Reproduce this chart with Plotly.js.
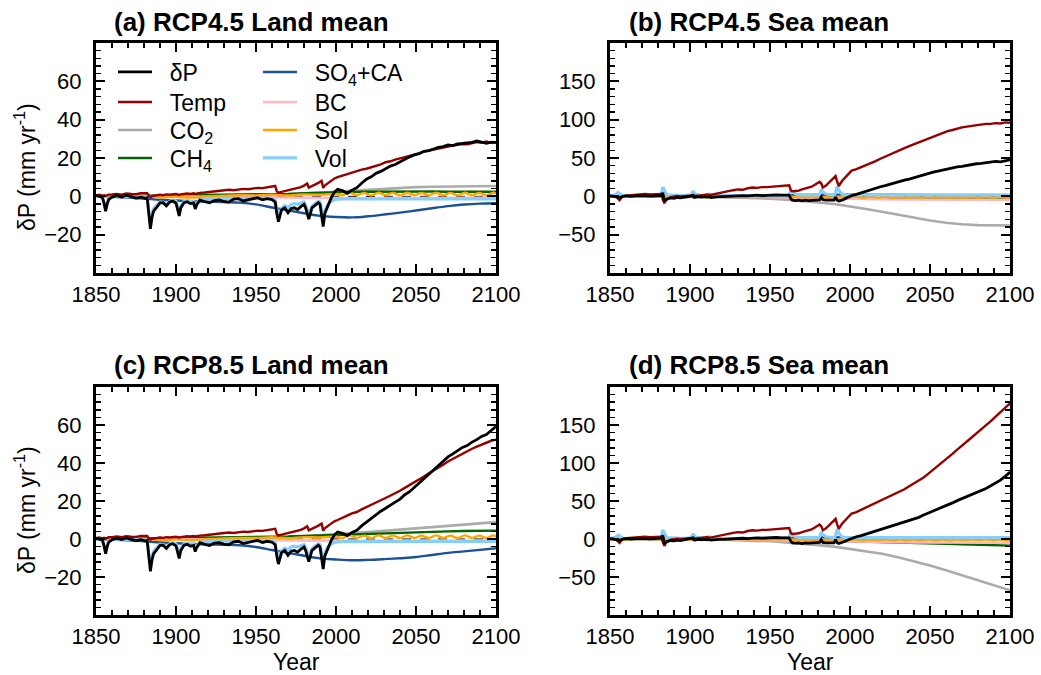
<!DOCTYPE html>
<html>
<head>
<meta charset="utf-8">
<script src="https://cdn.plot.ly/plotly-3.0.1.min.js"></script>
<style>
  html, body { margin: 0; padding: 0; background: #ffffff; }
  #chart { width: 1041px; height: 675px; }
</style>
</head>
<body>
<div id="chart"></div>
<script>
// ---------- time axes ----------
const histYears = [1850, 1852, 1854, 1855, 1856, 1857, 1858, 1860, 1863, 1866,
  1869, 1872, 1875, 1878, 1881, 1882, 1883, 1884, 1885, 1886,
  1888, 1890, 1892, 1894, 1896, 1898, 1900, 1901, 1902, 1903,
  1905, 1907, 1909, 1911, 1912, 1913, 1915, 1918, 1921, 1924,
  1927, 1930, 1933, 1936, 1939, 1942, 1945, 1948, 1951, 1954,
  1957, 1960, 1962, 1963, 1964, 1966, 1968, 1970, 1972, 1974,
  1976, 1978, 1980, 1981, 1982, 1983, 1985, 1987, 1989, 1990,
  1991, 1992, 1993, 1995, 1997, 1999, 2001];
const futureYears = [2004, 2007, 2010, 2013, 2016, 2019, 2022, 2025, 2028, 2031, 2034,
  2037, 2040, 2043, 2046, 2049, 2052, 2055, 2058, 2061, 2064, 2067, 2070, 2073, 2076,
  2079, 2082, 2085, 2088, 2091, 2094, 2097, 2100];
const decadeYears = [1850, 1860, 1870, 1880, 1890, 1900, 1910, 1920, 1930, 1940, 1950,
  1960, 1970, 1980, 1990, 2000, 2010, 2020, 2030, 2040, 2050, 2060, 2070, 2080, 2090, 2100];
const solarYears = [1850, 1860, 1870, 1880, 1890, 1900, 1910, 1920, 1930, 1940, 1950,
  1960, 1970, 1980, 1990, 2000, 2004, 2008.5, 2013, 2017.5, 2022, 2026.5, 2031, 2035.5,
  2040, 2044.5, 2049, 2053.5, 2058, 2062.5, 2067, 2071.5, 2076, 2080.5, 2085, 2089.5,
  2094, 2098.5, 2100];
const volTailYears = [2004, 2100];

// ---------- land mean (mm/yr) ----------
const landDPHist = [0.5, 0.0, -0.6, -3.5, -7.8, -4.0, -1.6, -0.4, 0.4, -0.3,
  0.6, -0.2, -0.9, -0.4, -1.1, -0.8, -10.0, -17.0, -11.0, -7.7,
  -5.6, -3.4, -3.3, -5.0, -3.0, -2.5, -3.6, -7.0, -10.2, -6.0,
  -3.3, -2.8, -3.8, -3.4, -6.6, -4.4, -1.9, -2.8, -3.4, -2.2,
  -1.9, -2.7, -3.0, -1.5, -1.2, -2.4, -1.9, -1.0, -0.7, -1.8,
  -1.2, -1.7, -3.0, -9.0, -13.2, -7.0, -6.0, -8.6, -6.4, -6.0,
  -6.9, -5.4, -4.2, -6.0, -9.2, -11.9, -6.0, -4.5, -3.3, -4.2,
  -9.5, -15.8, -9.0, -4.6, -0.8, 2.2, 3.7];
const landDP45 = [3.0, 1.6, 3.2, 4.5, 6.8, 8.9, 10.2, 12.0, 13.0, 14.6, 15.8,
  16.6, 18.0, 19.0, 20.6, 21.6, 22.3, 23.5, 23.9, 24.7, 25.6, 25.9, 26.8, 26.5, 27.4,
  27.6, 27.9, 28.2, 28.9, 28.4, 27.7, 28.3, 28.0];
const landDP85 = [3.0, 1.8, 3.4, 4.6, 6.9, 8.8, 10.6, 12.9, 14.6, 16.2, 18.0,
  19.4, 21.0, 23.3, 24.9, 27.2, 29.1, 31.6, 33.8, 36.0, 38.5, 40.9, 43.2, 44.8, 46.3,
  48.2, 49.2, 51.0, 52.3, 54.0, 55.0, 57.3, 59.2];
const landTempHist = [0.4, 0.8, 0.3, 0.6, 0.2, 0.5, 0.9, 1.0, 1.3, 0.9,
  1.5, 1.2, 1.1, 1.6, 1.8, 1.6, 0.4, -0.4, 0.1, 0.3,
  0.6, 0.8, 0.6, 1.0, 0.8, 1.1, 1.2, 1.0, 0.7, 1.0,
  1.2, 1.5, 1.3, 1.6, 1.3, 1.5, 1.8, 2.0, 2.3, 2.6,
  2.9, 3.1, 3.4, 3.2, 3.6, 3.9, 3.7, 4.2, 4.4, 4.3,
  4.8, 5.0, 5.4, 2.6, 1.9, 2.3, 2.7, 3.0, 3.3, 3.8,
  4.1, 4.8, 5.6, 6.3, 6.7, 4.6, 5.3, 6.2, 7.0, 7.6,
  8.1, 4.4, 5.6, 6.9, 8.1, 9.3, 10.0];
const landTemp45 = [10.8, 11.6, 12.6, 13.0, 13.9, 14.4, 15.1, 16.0, 16.7, 17.8, 18.3,
  19.2, 19.8, 20.6, 21.0, 21.9, 22.4, 23.3, 23.7, 24.4, 24.9, 25.6, 25.9, 26.5, 26.8,
  27.3, 27.2, 27.9, 28.3, 28.0, 28.6, 27.9, 28.4];
const landTemp85 = [11.0, 12.3, 13.5, 14.2, 15.6, 16.7, 18.0, 19.0, 20.4, 21.6, 22.8,
  24.1, 25.4, 26.9, 28.3, 29.9, 31.4, 32.9, 34.6, 36.0, 37.7, 39.1, 40.8, 42.2, 43.6,
  45.1, 46.1, 47.5, 48.6, 49.7, 50.6, 51.7, 52.3];
const landVolHist = [0.0, 0.0, -0.5, -3.0, -6.2, -3.2, -1.0, -0.3, 0.0, -0.2,
  0.0, -0.2, -0.3, -0.3, -0.5, -0.5, -8.0, -13.5, -9.0, -6.5,
  -4.6, -3.0, -3.0, -4.0, -2.6, -2.0, -2.6, -5.6, -8.2, -5.0,
  -2.6, -2.2, -2.6, -2.5, -5.2, -3.6, -1.6, -1.6, -1.6, -1.3,
  -1.1, -1.1, -1.1, -1.0, -1.0, -1.0, -1.0, -1.0, -1.0, -1.0,
  -1.0, -1.0, -2.0, -7.2, -10.8, -6.2, -4.8, -5.8, -4.2, -3.8,
  -4.2, -3.6, -3.0, -4.6, -7.2, -9.6, -5.2, -3.6, -2.6, -3.0,
  -7.2, -12.6, -7.6, -4.0, -2.6, -1.8, -1.5];
const landVolTail = [-1.4, -1.3];
const landCO2_45 = [0, 0, 0, 0.1, 0.1, 0.2, 0.2, 0.3, 0.3, 0.4, 0.5, 0.7, 1.0, 1.4, 1.9,
  2.4, 3.0, 3.6, 4.1, 4.5, 4.8, 5.0, 5.2, 5.3, 5.4, 5.4];
const landCO2_85 = [0, 0, 0, 0.1, 0.1, 0.2, 0.2, 0.3, 0.3, 0.4, 0.5, 0.7, 1.0, 1.4, 1.9,
  2.4, 3.0, 3.6, 4.3, 5.0, 5.7, 6.4, 7.1, 7.7, 8.3, 8.9];
const landCH4_45 = [0, 0.1, 0.1, 0.2, 0.3, 0.4, 0.5, 0.6, 0.7, 0.8, 0.9, 1.1, 1.3, 1.6, 1.9,
  2.1, 2.3, 2.4, 2.5, 2.5, 2.5, 2.5, 2.4, 2.4, 2.4, 2.4];
const landCH4_85 = [0, 0.1, 0.1, 0.2, 0.3, 0.4, 0.5, 0.6, 0.7, 0.8, 0.9, 1.1, 1.3, 1.6, 1.9,
  2.1, 2.5, 2.8, 3.1, 3.4, 3.6, 3.8, 4.0, 4.2, 4.3, 4.4];
const landSO4_45 = [0, -0.3, -0.7, -1.2, -1.8, -2.2, -2.6, -2.8, -3.0, -3.3, -4.2, -5.8, -7.3,
  -8.8, -10.2, -10.8, -11.0, -10.4, -9.5, -8.5, -7.4, -6.2, -5.1, -4.3, -3.8, -3.6];
const landSO4_85 = [0, -0.3, -0.7, -1.2, -1.8, -2.2, -2.6, -2.8, -3.0, -3.3, -4.2, -5.8, -7.3,
  -8.8, -10.2, -10.8, -11.2, -11.0, -10.6, -10.1, -9.5, -8.4, -7.3, -6.5, -5.7, -4.9];
const landBC_45 = [0, 0, 0, 0, -0.1, -0.2, -0.2, -0.3, -0.3, -0.4, -0.5, -0.6, -0.8, -0.9,
  -1.0, -1.1, -1.0, -1.0, -0.9, -0.9, -0.8, -0.8, -0.8, -0.8, -0.8, -0.8];
const landBC_85 = [0, 0, 0, 0, -0.1, -0.2, -0.2, -0.3, -0.3, -0.4, -0.5, -0.6, -0.8, -0.9,
  -1.0, -1.1, -1.1, -1.1, -1.0, -1.0, -1.0, -1.0, -1.0, -1.0, -1.0, -1.0];
const landSol = [0.3, 0.0, 0.5, 0.2, -0.6, -0.2, -0.7, 0.0, 0.3, 0.6, 0.5, 0.9, 0.4, 1.0, 0.8,
  1.2, 0.5, 1.9, 0.6, 1.8, 0.5, 1.9, 0.6, 1.8, 0.5, 1.9, 0.6, 1.8, 0.5, 1.9, 0.6, 1.8,
  0.5, 1.9, 0.6, 1.8, 0.5, 1.9, 1.2];

// ---------- sea mean (mm/yr) ----------
const seaDPHist = [0.5, 0.0, -0.5, -1.0, -2.0, -1.0, 0.0, 0.5, 0.0, 0.5,
  0.8, 0.5, 0.2, 0.8, 1.0, 1.0, 4.5, -6.0, -4.0, -3.0,
  -2.0, -2.5, -1.5, -2.0, -1.0, -0.5, 0.0, 0.5, 1.5, -1.5,
  -0.5, -1.0, -0.5, -1.0, -0.5, -1.5, -1.0, -0.5, -0.5, 0.0,
  0.5, 0.5, 1.0, 0.5, 1.0, 1.5, 1.0, 1.5, 1.5, 2.0,
  1.5, 2.0, 1.5, -3.0, -5.0, -5.5, -5.0, -6.0, -5.0, -5.5,
  -5.0, -4.5, -4.0, -4.5, -1.0, -4.5, -5.0, -5.0, -4.5, -5.0,
  -1.0, -5.0, -6.0, -5.0, -3.0, -1.0, 1.0];
const seaDP45 = [2.5, 4.5, 7.0, 9.0, 10.5, 12.5, 14.0, 16.0, 17.0, 19.5, 21.0,
  22.5, 24.5, 26.5, 28.0, 30.0, 31.5, 33.0, 34.5, 35.5, 37.0, 38.5, 39.0, 40.5, 41.0,
  42.5, 43.0, 44.0, 44.5, 45.5, 45.0, 46.5, 47.5];
const seaDP85 = [3.0, 4.5, 6.5, 8.5, 10.0, 12.0, 13.5, 15.5, 17.5, 19.5, 21.5,
  23.5, 26.0, 28.5, 31.5, 34.0, 37.0, 39.5, 42.0, 45.0, 47.5, 50.5, 53.0, 55.5, 58.0,
  61.0, 63.5, 66.5, 70.0, 73.5, 77.5, 82.5, 88.0];
const seaTempHist = [0.0, 0.5, -1.0, -3.0, -5.0, -2.0, 0.0, 1.0, 1.5, 2.0,
  2.5, 3.0, 2.5, 3.0, 3.5, 3.0, -4.0, -9.0, -5.0, -3.0,
  -1.0, 0.0, 0.5, 0.0, 0.5, 1.0, 1.5, 1.0, -1.0, 0.5,
  1.0, 1.5, 2.0, 2.5, 1.5, 2.0, 3.0, 4.0, 5.5, 7.0,
  8.0, 9.0, 8.5, 10.5, 11.5, 11.0, 12.0, 12.0, 12.5, 13.0,
  13.5, 14.0, 14.5, 8.0, 6.5, 7.0, 7.5, 9.0, 10.0, 11.0,
  12.5, 15.0, 17.5, 19.0, 17.0, 11.5, 14.0, 18.0, 22.0, 24.5,
  26.5, 19.0, 13.5, 20.0, 25.0, 30.0, 33.5];
const seaTemp45 = [35.5, 38.0, 40.0, 43.0, 46.0, 49.0, 52.0, 55.0, 57.5, 60.5, 63.0,
  65.5, 68.0, 70.5, 73.0, 76.0, 78.5, 80.5, 83.0, 85.0, 86.5, 88.5, 90.0, 91.0, 92.0,
  93.0, 94.0, 94.5, 94.5, 95.5, 95.0, 96.5, 96.0];
const seaTemp85 = [35.5, 38.5, 41.5, 44.5, 47.0, 50.0, 52.5, 55.5, 58.5, 62.0, 65.5,
  69.5, 73.0, 77.0, 81.0, 86.0, 91.0, 96.0, 101.0, 107.0, 112.0, 117.5, 122.5, 128.0, 133.5,
  139.0, 144.0, 149.5, 155.0, 161.0, 166.5, 172.5, 178.5];
const seaVolHist = [1.5, 1.0, 3.0, 5.0, 4.0, 2.0, 1.0, 0.5, 0.5, 0.5,
  0.5, 0.5, 0.5, 0.5, 0.5, 1.0, 12.0, 8.0, 3.5, 2.0,
  1.5, 1.0, 1.0, 1.0, 1.0, 1.0, 1.5, 3.0, 7.0, 3.0,
  1.5, 1.0, 1.0, 1.5, 3.0, 2.0, 1.0, 0.5, 0.5, 0.5,
  0.5, 0.5, 0.5, 0.5, 0.5, 0.5, 0.5, 0.5, 0.5, 0.5,
  0.5, 0.5, 1.0, 8.0, 6.0, 3.0, 2.0, 2.0, 1.5, 1.5,
  1.5, 1.5, 1.5, 2.0, 9.0, 6.0, 3.0, 2.0, 1.5, 1.5,
  5.0, 13.0, 8.0, 3.0, 2.0, 2.0, 2.0];
const seaVolTail = [2.0, 2.0];
const seaCO2_45 = [0, 0, 0, -0.2, -0.3, -0.5, -0.8, -1.0, -1.5, -2.0, -3.0, -4.5, -6.0, -8.0,
  -10.0, -13.0, -16.5, -20.0, -24.0, -28.0, -31.5, -34.5, -36.5, -37.5, -38.0, -38.0];
const seaCO2_85 = [0, 0, 0, -0.2, -0.3, -0.5, -0.8, -1.0, -1.5, -2.0, -3.0, -4.5, -6.0, -8.0,
  -10.0, -13.0, -16.5, -19.5, -24.0, -29.0, -35.0, -41.0, -47.5, -54.0, -60.5, -67.5];
const seaCH4_45 = [0, 0, 0, 0, 0, 0, -0.1, -0.2, -0.3, -0.4, -0.6, -0.9, -1.3, -1.8, -2.3,
  -2.6, -2.8, -2.9, -3.0, -3.0, -3.0, -3.0, -2.9, -2.9, -2.8, -2.8];
const seaCH4_85 = [0, 0, 0, 0, 0, 0, -0.1, -0.2, -0.3, -0.4, -0.6, -0.9, -1.3, -1.8, -2.3,
  -2.6, -3.0, -3.5, -4.2, -4.9, -5.6, -6.3, -7.0, -7.6, -8.2, -8.7];
const seaSO4_45 = [0, 0.1, 0.2, 0.3, 0.4, 0.5, 0.6, 0.7, 0.8, 0.9, 1.1, 1.4, 1.7, 2.0, 2.2,
  2.3, 2.3, 2.2, 2.0, 1.8, 1.6, 1.4, 1.2, 1.0, 0.9, 0.8];
const seaSO4_85 = [0, 0.1, 0.2, 0.3, 0.4, 0.5, 0.6, 0.7, 0.8, 0.9, 1.1, 1.4, 1.7, 2.0, 2.2,
  2.3, 2.4, 2.3, 2.2, 2.1, 2.0, 1.8, 1.6, 1.4, 1.2, 1.0];
const seaBC_45 = [0, 0, 0, 0, -0.1, -0.2, -0.4, -0.6, -0.8, -1.0, -1.4, -1.9, -2.5, -3.0, -3.4,
  -3.7, -3.9, -4.0, -4.1, -4.2, -4.2, -4.3, -4.3, -4.4, -4.4, -4.4];
const seaBC_85 = [0, 0, 0, 0, -0.1, -0.2, -0.4, -0.6, -0.8, -1.0, -1.4, -1.9, -2.5, -3.0, -3.4,
  -3.7, -3.9, -4.1, -4.3, -4.5, -4.6, -4.7, -4.8, -4.9, -4.9, -5.0];
const seaSol = [0.0, -0.3, 0.2, -0.2, -1.0, -0.5, -0.8, -0.3, -0.2, -0.4, -0.5, -0.3, -1.2, -1.0,
  -1.5, -1.0, -0.6, -1.8, -0.6, -1.7, -0.6, -1.8, -0.6, -1.7, -0.6, -1.8, -0.6, -1.7, -0.6,
  -1.8, -0.6, -1.7, -0.6, -1.8, -0.6, -1.7, -0.6, -1.8, -1.2];

// ---------- labels ----------
const panelTitles = ['(a) RCP4.5 Land mean', '(b) RCP4.5 Sea mean', '(c) RCP8.5 Land mean', '(d) RCP8.5 Sea mean'];
const seriesNames = {
  dp: 'δP', temp: 'Temp', co2: 'CO<sub>2</sub>', ch4: 'CH<sub>4</sub>',
  so4: 'SO<sub>4</sub>+CA', bc: 'BC', sol: 'Sol', vol: 'Vol'
};
const xTickVals = [1850, 1900, 1950, 2000, 2050, 2100];
const landTickVals = [-20, 0, 20, 40, 60];
const seaTickVals = [-50, 0, 50, 100, 150];
const yTitle = 'δP (mm yr<sup>-1</sup>)';
const xTitle = 'Year';

// ---------- styling ----------
const FONT = 'Liberation Sans, Arial, Helvetica, sans-serif';
const W = 1041, H = 675;
// each key entry sits in its own legend box: [left px, row-centre px]
const style = {
  co2:  { color: '#ababab', width: 2.6, legend: 'legend3', pos: [113, 130] },
  ch4:  { color: '#006400', width: 2.4, legend: 'legend4', pos: [113, 158] },
  so4:  { color: '#1e5096', width: 2.4, legend: 'legend5', pos: [258, 72] },
  bc:   { color: '#ffb6c1', width: 2.6, legend: 'legend6', pos: [258, 102] },
  sol:  { color: '#ffa500', width: 2.4, legend: 'legend7', pos: [258, 130] },
  vol:  { color: '#87cefa', width: 3.2, legend: 'legend8', pos: [258, 158] },
  temp: { color: '#960000', width: 2.4, legend: 'legend2', pos: [113, 102] },
  dp:   { color: '#000000', width: 2.8, legend: 'legend',  pos: [113, 72] }
};

const panels = [
  { xa: 'x',  ya: 'y',  showLegend: true,
    co2: landCO2_45, ch4: landCH4_45, so4: landSO4_45, bc: landBC_45, sol: landSol,
    volHist: landVolHist, volTail: landVolTail,
    tempHist: landTempHist, tempFut: landTemp45, dpHist: landDPHist, dpFut: landDP45 },
  { xa: 'x2', ya: 'y2', showLegend: false,
    co2: seaCO2_45, ch4: seaCH4_45, so4: seaSO4_45, bc: seaBC_45, sol: seaSol,
    volHist: seaVolHist, volTail: seaVolTail,
    tempHist: seaTempHist, tempFut: seaTemp45, dpHist: seaDPHist, dpFut: seaDP45 },
  { xa: 'x3', ya: 'y3', showLegend: false,
    co2: landCO2_85, ch4: landCH4_85, so4: landSO4_85, bc: landBC_85, sol: landSol,
    volHist: landVolHist, volTail: landVolTail,
    tempHist: landTempHist, tempFut: landTemp85, dpHist: landDPHist, dpFut: landDP85 },
  { xa: 'x4', ya: 'y4', showLegend: false,
    co2: seaCO2_85, ch4: seaCH4_85, so4: seaSO4_85, bc: seaBC_85, sol: seaSol,
    volHist: seaVolHist, volTail: seaVolTail,
    tempHist: seaTempHist, tempFut: seaTemp85, dpHist: seaDPHist, dpFut: seaDP85 }
];

// two non-breaking spaces widen the gap between key line and label
const PAD = '\u00a0\u00a0';

function line(key, p, x, y, shape) {
  const s = style[key];
  const ln = { color: s.color, width: s.width };
  if (shape) { ln.shape = 'spline'; ln.smoothing = 1; }
  return {
    type: 'scatter', mode: 'lines', x: x, y: y,
    xaxis: p.xa, yaxis: p.ya,
    name: PAD + seriesNames[key],
    line: ln,
    showlegend: p.showLegend, legend: s.legend,
    hoverinfo: 'skip'
  };
}

const traces = [];
panels.forEach(p => {
  traces.push(line('co2', p, decadeYears, p.co2));
  traces.push(line('ch4', p, decadeYears, p.ch4));
  traces.push(line('so4', p, decadeYears, p.so4, true));
  traces.push(line('bc', p, decadeYears, p.bc));
  traces.push(line('sol', p, solarYears, p.sol, true));
  traces.push(line('vol', p, histYears.concat(volTailYears), p.volHist.concat(p.volTail)));
  traces.push(line('temp', p, histYears.concat(futureYears), p.tempHist.concat(p.tempFut)));
  traces.push(line('dp', p, histYears.concat(futureYears), p.dpHist.concat(p.dpFut)));
});

// ---------- axes ----------
const colL = [96 / W, 496 / W], colR = [610 / W, 1010 / W];
const rowT = [1 - 273 / H, 1 - 43 / H], rowB = [1 - 615 / H, 1 - 387 / H];

function xAxis(domain, anchor) {
  return {
    domain: domain, anchor: anchor, range: [1850, 2100],
    tickmode: 'array', tickvals: xTickVals,
    ticks: 'inside', ticklen: 9, tickwidth: 2, tickcolor: '#000',
    showline: true, linewidth: 3, linecolor: '#000', mirror: 'allticks',
    showgrid: false, zeroline: false, ticklabelstandoff: 0,
    tickfont: { family: FONT, size: 22, color: '#000' },
    minor: { ticks: 'inside', ticklen: 5, tickwidth: 1.5, tickcolor: '#000',
             tickmode: 'linear', tick0: 1850, dtick: 10, showgrid: false },
    fixedrange: true
  };
}
function yAxis(domain, anchor, range, vals, minorStep) {
  return {
    domain: domain, anchor: anchor, range: range,
    tickmode: 'array', tickvals: vals,
    ticks: 'inside', ticklen: 9, tickwidth: 2, tickcolor: '#000',
    showline: true, linewidth: 3, linecolor: '#000', mirror: 'allticks',
    showgrid: false, zeroline: false, ticklabelstandoff: 7,
    tickfont: { family: FONT, size: 22, color: '#000' },
    minor: { ticks: 'inside', ticklen: 5, tickwidth: 1.5, tickcolor: '#000',
             tickmode: 'linear', tick0: range[0], dtick: minorStep, showgrid: false },
    fixedrange: true
  };
}

const zeroLines = ['', '2', '3', '4'].map(n => ({
  type: 'line', xref: 'x' + n, yref: 'y' + n, x0: 1850, x1: 2100, y0: 0, y1: 0,
  line: { color: '#000', width: 1, dash: 'dash' }, layer: 'below'
}));

const titleFont = { family: FONT, size: 26, color: '#000' };
const annotations = [
  { text: '<b>' + panelTitles[0] + '</b>', x: 112 / W, y: 1 - 22 / H },
  { text: '<b>' + panelTitles[1] + '</b>', x: 627 / W, y: 1 - 22 / H },
  { text: '<b>' + panelTitles[2] + '</b>', x: 112 / W, y: 1 - 365 / H },
  { text: '<b>' + panelTitles[3] + '</b>', x: 627 / W, y: 1 - 365 / H }
].map(a => Object.assign(a, { xref: 'paper', yref: 'paper', xanchor: 'left', yanchor: 'middle',
  showarrow: false, font: titleFont }));

[1 - 167 / H, 1 - 510 / H].forEach(yy => annotations.push({
  text: yTitle, xref: 'paper', yref: 'paper', x: 25 / W, y: yy, textangle: -90,
  xanchor: 'center', yanchor: 'middle', showarrow: false,
  font: { family: FONT, size: 23, color: '#000' }
}));
['x3 domain', 'x4 domain'].forEach(xr => annotations.push({
  text: xTitle, xref: xr, yref: 'paper', x: 0.5, y: 1 - 662 / H,
  xanchor: 'center', yanchor: 'middle', showarrow: false,
  font: { family: FONT, size: 23, color: '#000' }
}));

const layout = {
  width: W, height: H,
  margin: { l: 0, r: 0, t: 0, b: 0 },
  paper_bgcolor: '#ffffff', plot_bgcolor: '#ffffff',
  font: { family: FONT, color: '#000' },
  xaxis:  xAxis(colL, 'y'),
  yaxis:  yAxis(rowT, 'x',  [-40, 80],  landTickVals, 4),
  xaxis2: xAxis(colR, 'y2'),
  yaxis2: yAxis(rowT, 'x2', [-100, 200], seaTickVals, 10),
  xaxis3: xAxis(colL, 'y3'),
  yaxis3: yAxis(rowB, 'x3', [-40, 80],  landTickVals, 4),
  xaxis4: xAxis(colR, 'y4'),
  yaxis4: yAxis(rowB, 'x4', [-100, 200], seaTickVals, 10),
  showlegend: true,
  shapes: zeroLines,
  annotations: annotations
};

Object.keys(style).forEach(k => {
  const s = style[k];
  layout[s.legend] = {
    x: s.pos[0] / W, xanchor: 'left', y: 1 - s.pos[1] / H, yanchor: 'middle',
    bgcolor: 'rgba(0,0,0,0)', borderwidth: 0, itemwidth: 34,
    font: { family: FONT, size: 23, color: '#000' }, orientation: 'v'
  };
});

Plotly.newPlot('chart', traces, layout, { staticPlot: true, displayModeBar: false });
</script>
</body>
</html>
